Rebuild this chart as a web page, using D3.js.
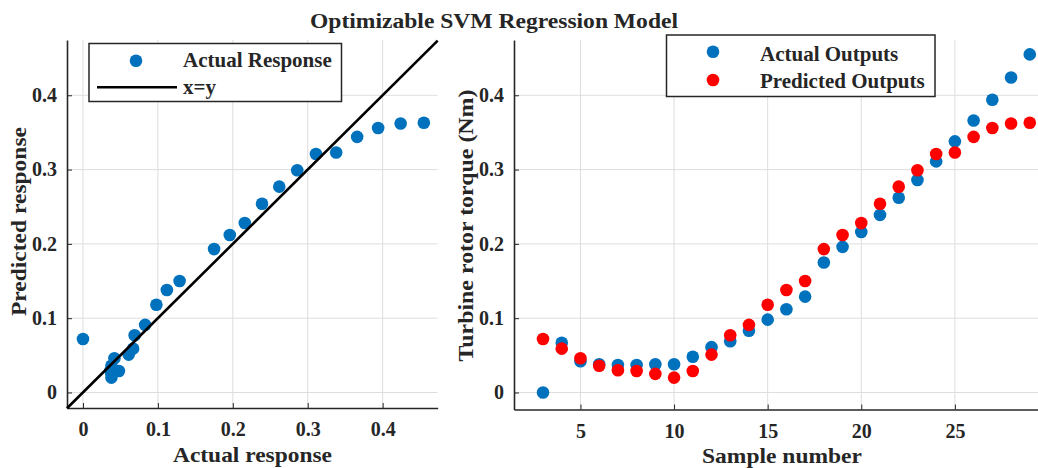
<!DOCTYPE html>
<html><head><meta charset="utf-8">
<script src="https://cdn.jsdelivr.net/npm/d3@7"></script>
<style>
html,body{margin:0;padding:0;background:#fff;}
text{font-family:"Liberation Serif","Times New Roman",serif;font-weight:bold;fill:#262626;}
</style></head>
<body>
<svg id="c" width="1038" height="468"></svg>
<script>
// ---- data ----
const title = "Optimizable SVM Regression Model";
const sampleNumbers = [3,4,5,6,7,8,9,10,11,12,13,14,15,16,17,18,19,20,21,22,23,24,25,26,27,28,29];
const actualOutputs = [0.000,0.067,0.042,0.038,0.037,0.037,0.038,0.038,0.048,0.061,0.069,0.083,0.098,0.112,0.129,0.175,0.196,0.216,0.239,0.262,0.286,0.311,0.338,0.366,0.394,0.424,0.455];
const predictedOutputs = [0.072,0.059,0.046,0.036,0.030,0.029,0.025,0.020,0.029,0.051,0.077,0.091,0.118,0.138,0.150,0.193,0.212,0.228,0.254,0.277,0.299,0.321,0.323,0.344,0.356,0.362,0.363];
const leftXTicks = [0,0.1,0.2,0.3,0.4];
const leftYTicks = [0,0.1,0.2,0.3,0.4];
const rightXTicks = [5,10,15,20,25];
const rightYTicks = [0,0.1,0.2,0.3,0.4];
const leftLegend = ["Actual Response","x=y"];
const rightLegend = ["Actual Outputs","Predicted Outputs"];

const BLUE = "#0072BD", RED = "#FF0000", AX = "#262626", GRID = "#dedede";
const svg = d3.select("#c");
const fmt = d => d === 0 ? "0" : String(d);

function panel(cfg){
  const g = svg.append("g");
  const {x, y} = cfg;
  const [xa, xb] = x.range(), [yb, ya] = y.range();
  g.append("g").selectAll("line").data(cfg.xt).join("line")
    .attr("x1", d=>x(d)).attr("x2", d=>x(d)).attr("y1", ya).attr("y2", yb)
    .attr("stroke", GRID).attr("stroke-width", 1);
  g.append("g").selectAll("line").data(cfg.yt).join("line")
    .attr("y1", d=>y(d)).attr("y2", d=>y(d)).attr("x1", xa).attr("x2", xb)
    .attr("stroke", GRID).attr("stroke-width", 1);
  const ax = g.append("g").attr("transform", `translate(0,${yb})`)
    .call(d3.axisBottom(x).tickValues(cfg.xt).tickFormat(fmt).tickSizeInner(-5).tickSizeOuter(0).tickPadding(14));
  const ay = g.append("g").attr("transform", `translate(${xa},0)`)
    .call(d3.axisLeft(y).tickValues(cfg.yt).tickFormat(fmt).tickSizeInner(-5).tickSizeOuter(0).tickPadding(10));
  [ax, ay].forEach(a => {
    a.select(".domain").attr("stroke", AX).attr("stroke-width", 1.6);
    a.selectAll(".tick line").attr("stroke", AX).attr("stroke-width", 1);
    a.selectAll(".tick text").attr("font-size", 20).attr("font-family", "Liberation Serif").attr("font-weight", "bold").attr("fill", "#333");
  });
  return g;
}
function label(g, txt, x, y, len, rot){
  return g.append("text")
    .attr("transform", rot ? `translate(${x},${y}) rotate(-90)` : `translate(${x},${y})`)
    .attr("text-anchor","middle").attr("font-size", 21)
    .attr("textLength", len).attr("lengthAdjust","spacingAndGlyphs").text(txt);
}

// ---- left panel ----
const xL = d3.scaleLinear().domain([-0.0213, 0.4735]).range([67, 437.7]);
const yL = d3.scaleLinear().domain([-0.0209, 0.4744]).range([408, 40]);
const gL = panel({x:xL, y:yL, xt:leftXTicks, yt:leftYTicks});
gL.append("g").selectAll("circle").data(d3.range(actualOutputs.length)).join("circle")
  .attr("cx", i=>xL(actualOutputs[i])).attr("cy", i=>yL(predictedOutputs[i])).attr("r", 6.3).attr("fill", BLUE);
const lim = [-0.0213, 0.4735];
gL.append("line").attr("x1", xL(lim[0])).attr("y1", yL(lim[0])).attr("x2", xL(lim[1])).attr("y2", yL(lim[1]))
  .attr("stroke", "#000").attr("stroke-width", 2.6);
label(gL, "Actual response", 252.5, 462, 159, false);
label(gL, "Predicted response", 26, 221.5, 189, true);
const lgL = gL.append("g");
lgL.append("rect").attr("x", 89).attr("y", 43.5).attr("width", 252.5).attr("height", 58).attr("fill","#fff").attr("stroke","#262626").attr("stroke-width",1.5);
lgL.append("circle").attr("cx", 136).attr("cy", 60.7).attr("r", 6.3).attr("fill", BLUE);
lgL.append("text").attr("x", 183).attr("y", 67).attr("font-size", 21).text(leftLegend[0]);
lgL.append("line").attr("x1", 97).attr("x2", 177).attr("y1", 87.3).attr("y2", 87.3).attr("stroke","#000").attr("stroke-width",2.6);
lgL.append("text").attr("x", 183).attr("y", 94).attr("font-size", 21).text(leftLegend[1]);

// ---- right panel ----
const xR = d3.scaleLinear().domain([1.45, 30]).range([514, 1048.5]);
const yR = d3.scaleLinear().domain([-0.0229, 0.4744]).range([409.5, 40]);
const gR = panel({x:xR, y:yR, xt:rightXTicks, yt:rightYTicks});
gR.append("g").selectAll("circle").data(sampleNumbers).join("circle")
  .attr("cx", (d)=>xR(d)).attr("cy", (d,i)=>yR(actualOutputs[i])).attr("r", 6.3).attr("fill", BLUE);
gR.append("g").selectAll("circle").data(sampleNumbers).join("circle")
  .attr("cx", (d)=>xR(d)).attr("cy", (d,i)=>yR(predictedOutputs[i])).attr("r", 6.3).attr("fill", RED);
label(gR, "Sample number", 782, 463, 160, false);
label(gR, "Turbine rotor torque (Nm)", 473, 225.5, 272, true);
const lgR = gR.append("g");
lgR.append("rect").attr("x", 666.5).attr("y", 35).attr("width", 268.5).attr("height", 61.5).attr("fill","#fff").attr("stroke","#262626").attr("stroke-width",1.5);
lgR.append("circle").attr("cx", 713).attr("cy", 51.7).attr("r", 6.3).attr("fill", BLUE);
lgR.append("text").attr("x", 760).attr("y", 61).attr("font-size", 21).text(rightLegend[0]);
lgR.append("circle").attr("cx", 713).attr("cy", 80).attr("r", 6.3).attr("fill", RED);
lgR.append("text").attr("x", 760).attr("y", 88).attr("font-size", 21).text(rightLegend[1]);

// title
svg.append("text").attr("x", 494).attr("y", 27.5).attr("text-anchor","middle").attr("font-size", 22).attr("fill","#000")
  .attr("textLength", 368).attr("lengthAdjust","spacingAndGlyphs").text(title);
</script>
</body></html>
